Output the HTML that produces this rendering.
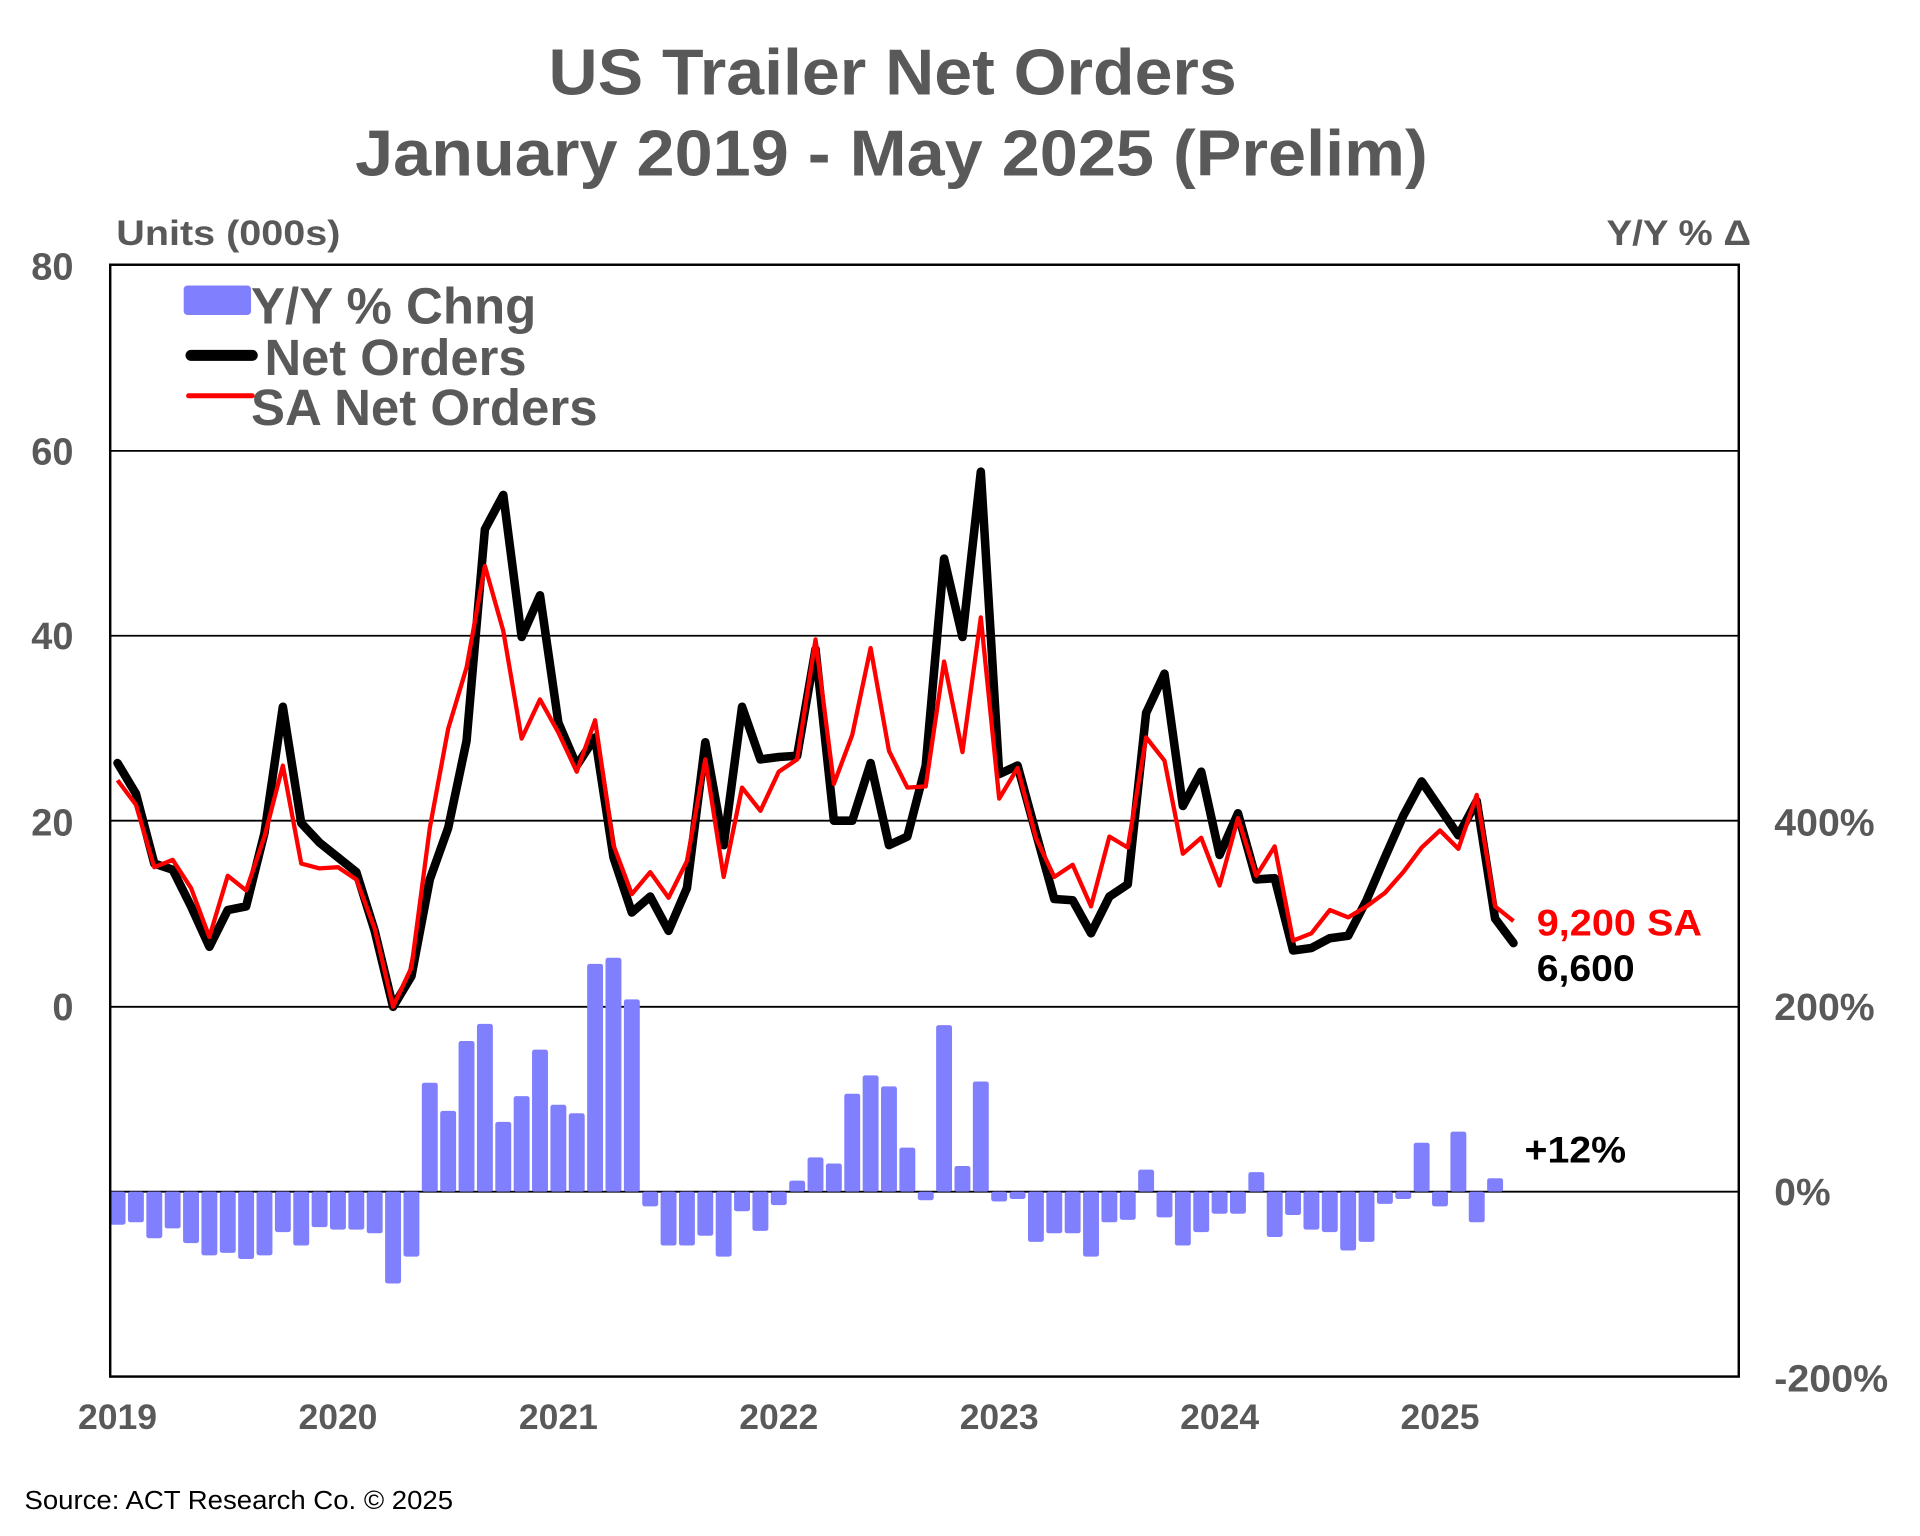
<!DOCTYPE html>
<html><head><style>
html,body{margin:0;padding:0;background:#fff;}
svg{display:block;}
text{font-family:"Liberation Sans",Arial,sans-serif;font-weight:bold;}
</style></head><body>
<svg width="1920" height="1536" viewBox="0 0 1568 1254" xmlns="http://www.w3.org/2000/svg">
<rect width="1568" height="1254" fill="#fff"/>
<text x="448" y="77" font-size="53" fill="#595959" textLength="562" lengthAdjust="spacingAndGlyphs">US Trailer Net Orders</text>
<text x="290" y="143" font-size="53" fill="#595959" textLength="876" lengthAdjust="spacingAndGlyphs">January 2019 - May 2025 (Prelim)</text>
<text x="95" y="200" font-size="29" fill="#595959" textLength="183" lengthAdjust="spacingAndGlyphs">Units (000s)</text>
<text x="1312" y="200" font-size="29" fill="#595959" textLength="118" lengthAdjust="spacingAndGlyphs">Y/Y % Δ</text>
<g font-size="31" fill="#595959" text-anchor="end">
<text x="60" y="228">80</text><text x="60" y="379">60</text><text x="60" y="530">40</text>
<text x="60" y="682">20</text><text x="60" y="833">0</text>
</g>
<g font-size="31" fill="#595959">
<text x="1449" y="682" textLength="82" lengthAdjust="spacingAndGlyphs">400%</text>
<text x="1449" y="833" textLength="82" lengthAdjust="spacingAndGlyphs">200%</text>
<text x="1449" y="984" textLength="46" lengthAdjust="spacingAndGlyphs">0%</text>
<text x="1449" y="1136" textLength="93" lengthAdjust="spacingAndGlyphs">-200%</text>
</g>
<g font-size="29" fill="#595959" text-anchor="middle">
<text x="96" y="1167">2019</text><text x="276" y="1167">2020</text><text x="456" y="1167">2021</text>
<text x="636" y="1167">2022</text><text x="816" y="1167">2023</text><text x="996" y="1167">2024</text><text x="1176" y="1167">2025</text>
</g>
<text x="20" y="1232" font-size="21" fill="#000" style="font-weight:normal" textLength="350" lengthAdjust="spacingAndGlyphs">Source: ACT Research Co. © 2025</text>
<g stroke="#000" stroke-width="1.5">
<line x1="90" y1="368" x2="1420" y2="368"/><line x1="90" y1="519" x2="1420" y2="519"/>
<line x1="90" y1="670" x2="1420" y2="670"/><line x1="90" y1="822" x2="1420" y2="822"/>
<line x1="90" y1="973" x2="1420" y2="973"/>
</g>
<g fill="#8080ff" id="bars"></g>
<rect x="90" y="216" width="1330" height="908" fill="none" stroke="#000" stroke-width="2"/>
<polyline id="blk" fill="none" stroke="#000" stroke-width="7" stroke-linejoin="round" stroke-linecap="round" points=""/>
<polyline id="red" fill="none" stroke="#f00" stroke-width="3.5" stroke-linejoin="round" points=""/>
<rect x="150" y="233" width="55" height="24" rx="3" fill="#8080ff"/>
<text x="205" y="264" font-size="42" fill="#595959" textLength="233" lengthAdjust="spacingAndGlyphs">Y/Y % Chng</text>
<line x1="156" y1="290" x2="206" y2="290" stroke="#000" stroke-width="9" stroke-linecap="round"/>
<text x="216" y="306" font-size="42" fill="#595959" textLength="214" lengthAdjust="spacingAndGlyphs">Net Orders</text>
<line x1="154" y1="323" x2="206" y2="323" stroke="#f00" stroke-width="4" stroke-linecap="round"/>
<text x="205" y="347" font-size="42" fill="#595959" textLength="283" lengthAdjust="spacingAndGlyphs">SA Net Orders</text>
<text x="1255" y="764" font-size="30" fill="#f00" textLength="135" lengthAdjust="spacingAndGlyphs">9,200 SA</text>
<text x="1255" y="801" font-size="30" fill="#000" textLength="80" lengthAdjust="spacingAndGlyphs">6,600</text>
<text x="1245" y="949" font-size="30" fill="#000" textLength="83" lengthAdjust="spacingAndGlyphs">+12%</text>
</svg>
<script>
var B=[623,648,705,710,740,773,743,740,680,577,672,688,700,712,760,822,797,718,676,605,432,404,520,486,590,625,602,700,745,732,760,725,606,690,577,620,618,617,530,670,670,623,690,683,625,456,520,385,632,625,680,734,735,762,732,722,582,550,658,630,698,664,718,717,776,774,766,764,735,700,666,638,660,682,654,750,770];
var R=[637,657,708,702,725,765,715,727,683,625,705,709,708,718,758,822,790,676,595,545,462,515,603,571,598,630,588,690,730,712,733,703,620,716,643,662,630,620,522,640,600,529,613,643,642,540,614,504,652,627,684,716,706,740,683,692,602,621,697,684,723,668,715,691,768,762,743,749,740,729,712,692,678,693,649,740,752];
var Y=[1000,998,1011,1003,1015,1025,1023,1028,1025,1006,1017,1002,1004,1004,1007,1048,1026,884,907,850,836,916,895,857,902,909,787,782,816,985,1017,1017,1009,1026,989,1005,984,964,945,950,893,878,887,937,980,837,952,883,981,979,1014,1007,1007,1026,998,996,955,994,1017,1006,991,991,957,1010,992,1004,1006,1021,1014,983,979,933,985,924,998,962];
function pts(a){return a.map(function(v,i){return (96+15*i)+","+v;}).join(" ");}
document.getElementById("blk").setAttribute("points",pts(B));
document.getElementById("red").setAttribute("points",pts(R));
var g=document.getElementById("bars"),h="";
Y.forEach(function(v,i){var x=96+15*i-6.5,t=Math.min(v,973),hh=Math.abs(v-973);
h+='<rect x="'+x+'" y="'+t+'" width="13" height="'+hh+'" rx="2"/>';});
g.innerHTML=h;
</script>
</body></html>
